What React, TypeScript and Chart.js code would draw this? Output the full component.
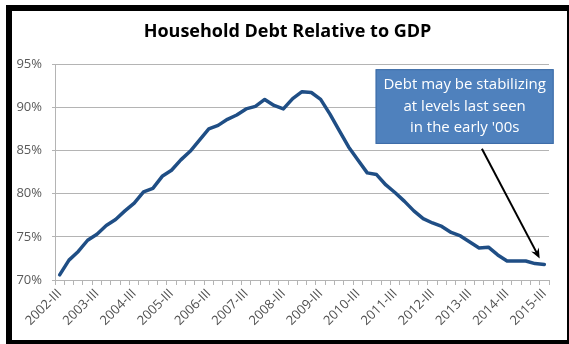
import React, { useEffect, useRef } from "react";
import { Chart, registerables } from "chart.js";

Chart.register(...registerables);

const TITLE = "Household Debt Relative to GDP";

const categories = [
  "2002-III", "2002-IV", "2003-I", "2003-II",
  "2003-III", "2003-IV", "2004-I", "2004-II",
  "2004-III", "2004-IV", "2005-I", "2005-II",
  "2005-III", "2005-IV", "2006-I", "2006-II",
  "2006-III", "2006-IV", "2007-I", "2007-II",
  "2007-III", "2007-IV", "2008-I", "2008-II",
  "2008-III", "2008-IV", "2009-I", "2009-II",
  "2009-III", "2009-IV", "2010-I", "2010-II",
  "2010-III", "2010-IV", "2011-I", "2011-II",
  "2011-III", "2011-IV", "2012-I", "2012-II",
  "2012-III", "2012-IV", "2013-I", "2013-II",
  "2013-III", "2013-IV", "2014-I", "2014-II",
  "2014-III", "2014-IV", "2015-I", "2015-II",
  "2015-III",
];

const debtToGdp = [
  70.6, 72.3, 73.3, 74.6,
  75.3, 76.3, 77.0, 78.0,
  78.9, 80.2, 80.6, 82.0,
  82.7, 83.9, 84.9, 86.2,
  87.5, 87.9, 88.6, 89.1,
  89.8, 90.1, 90.9, 90.2,
  89.8, 91.0, 91.8, 91.7,
  90.9, 89.2, 87.3, 85.4,
  83.9, 82.4, 82.2, 81.0,
  80.1, 79.1, 78.0, 77.1,
  76.6, 76.2, 75.5, 75.1,
  74.4, 73.7, 73.8, 72.9,
  72.2, 72.2, 72.2, 71.9,
  71.8,
];

const yTicks = [70, 75, 80, 85, 90, 95];

const noteLines = ["Debt may be stabilizing", "at levels last seen", "in the early '00s"];

// annotation anchors in data units (category index, percent)
const noteBox = { x0: 33.9, x1: 53.0, yTop: 94.4, yBottom: 85.75 };
const arrowFrom = { x: 45.3, y: 85.2 };
const arrowTo = { x: 51.5, y: 72.5 };

const FONT = "'Open Sans', 'DejaVu Sans', sans-serif";

const decorPlugin = {
  id: "decor",
  afterDraw(chart: any) {
    const { ctx, scales } = chart;
    const xs = scales.x;
    const ys = scales.y;
    ctx.save();
    // title
    ctx.fillStyle = "#000000";
    ctx.font = `bold 18px ${FONT}`;
    ctx.textAlign = "center";
    ctx.textBaseline = "alphabetic";
    ctx.fillText(TITLE, chart.width / 2 - 2, 26);

    // box
    const bx0 = xs.getPixelForValue(noteBox.x0);
    const bx1 = xs.getPixelForValue(noteBox.x1);
    const by0 = ys.getPixelForValue(noteBox.yTop);
    const by1 = ys.getPixelForValue(noteBox.yBottom);
    ctx.fillStyle = "#4F81BD";
    ctx.fillRect(bx0, by0, bx1 - bx0, by1 - by0);
    ctx.strokeStyle = "#3D6CA6";
    ctx.lineWidth = 1;
    ctx.strokeRect(bx0 + 0.5, by0 + 0.5, bx1 - bx0 - 1, by1 - by0 - 1);
    ctx.fillStyle = "#FFFFFF";
    ctx.font = `15px ${FONT}`;
    ctx.textBaseline = "middle";
    const cx = (bx0 + bx1) / 2;
    const cy = (by0 + by1) / 2;
    const lh = 21.5;
    noteLines.forEach((t, i) => {
      ctx.fillText(t, cx, cy + (i - (noteLines.length - 1) / 2) * lh);
    });

    // arrow
    const ax0 = xs.getPixelForValue(arrowFrom.x);
    const ay0 = ys.getPixelForValue(arrowFrom.y);
    const ax1 = xs.getPixelForValue(arrowTo.x);
    const ay1 = ys.getPixelForValue(arrowTo.y);
    const ang = Math.atan2(ay1 - ay0, ax1 - ax0);
    const hl = 11;
    const hw = 0.4;
    ctx.strokeStyle = "#000000";
    ctx.lineWidth = 2;
    ctx.beginPath();
    ctx.moveTo(ax0, ay0);
    ctx.lineTo(ax1 - Math.cos(ang) * 4, ay1 - Math.sin(ang) * 4);
    ctx.stroke();
    ctx.fillStyle = "#000000";
    ctx.beginPath();
    ctx.moveTo(ax1, ay1);
    ctx.lineTo(ax1 - hl * Math.cos(ang - hw), ay1 - hl * Math.sin(ang - hw));
    ctx.lineTo(ax1 - hl * 0.6 * Math.cos(ang), ay1 - hl * 0.6 * Math.sin(ang));
    ctx.lineTo(ax1 - hl * Math.cos(ang + hw), ay1 - hl * Math.sin(ang + hw));
    ctx.closePath();
    ctx.fill();
    ctx.restore();
  },
};

export default function App() {
  const ref = useRef<HTMLCanvasElement | null>(null);

  useEffect(() => {
    document.body.style.margin = "0";
    const canvas = ref.current;
    if (!canvas) return;
    const gridColor = "#B4B4B4";
    const chart = new Chart(canvas, {
      type: "line",
      data: {
        labels: categories,
        datasets: [
          {
            data: debtToGdp,
            borderColor: "#1F4E85",
            borderWidth: 3.5,
            pointRadius: 0,
            tension: 0,
            fill: false,
            borderCapStyle: "round",
            borderJoinStyle: "round",
          },
        ],
      },
      options: {
        animation: false,
        responsive: false,
        maintainAspectRatio: false,
        devicePixelRatio: 1,
        layout: { padding: { top: 53, right: 18, left: 0, bottom: 0 } },
        plugins: {
          legend: { display: false },
          tooltip: { enabled: false },
          title: { display: false },
        },
        scales: {
          x: {
            type: "category",
            offset: true,
            grid: {
              display: true,
              drawOnChartArea: false,
              drawTicks: true,
              tickLength: 5,
              offset: true,
              color: gridColor,
            },
            border: { display: true, color: gridColor },
            ticks: {
              autoSkip: false,
              minRotation: 45,
              maxRotation: 45,
              padding: 1,
              color: "#505050",
              font: { family: FONT, size: 13 },
              callback: (_v: any, i: number) => (i % 4 === 0 ? categories[i] : ""),
            },
            afterFit: (s: any) => {
              s.height = 60;
            },
          },
          y: {
            min: yTicks[0],
            max: yTicks[yTicks.length - 1],
            afterBuildTicks: (s: any) => {
              s.ticks = yTicks.map((v) => ({ value: v }));
            },
            grid: { color: gridColor, tickLength: 3, drawTicks: true },
            border: { display: true, color: gridColor },
            ticks: {
              padding: 10,
              color: "#595959",
              font: { family: FONT, size: 13 },
              callback: (v: any) => `${v}%`,
            },
            afterFit: (s: any) => {
              s.width = 43;
            },
          },
        },
      },
      plugins: [decorPlugin],
    });
    return () => chart.destroy();
  }, []);

  return (
    <div style={{ position: "relative", width: 569, height: 344, background: "#fff", overflow: "hidden" }}>
      <div
        style={{
          position: "absolute",
          left: 6,
          top: 5,
          width: 563,
          height: 339,
          boxSizing: "border-box",
          borderLeft: "6px solid #000",
          borderTop: "6px solid #000",
          borderRight: "2px solid #000",
          borderBottom: "4px solid #000",
          background: "#fff",
        }}
      />
      <canvas
        ref={ref}
        width={555}
        height={329}
        style={{ position: "absolute", left: 12, top: 11, width: 555, height: 329 }}
      />
    </div>
  );
}
